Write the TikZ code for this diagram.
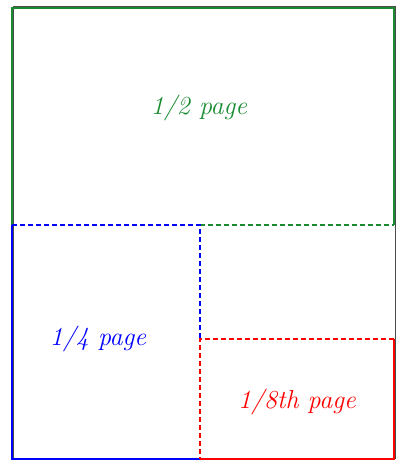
\documentclass[tikz,border=0pt]{standalone}
\usepackage{fontspec}
\usetikzlibrary{positioning}
\definecolor{halfgreen}{RGB}{25,140,50}
\tikzset{
    edge/.style={line width=2pt},
    fold/.style={line width=1.4pt, dash pattern=on 5pt off 3pt},
    label/.style={font=\fontsize{26}{30}\selectfont\itshape}
}

\begin{document}
\begin{tikzpicture}[x=1pt,y=-1pt]
    \useasboundingbox (0,0) rectangle (401,465);
    % Page corners
    \coordinate (tl) at (12,8);
    \coordinate (tr) at (394,8);
    \coordinate (bl) at (12,459);
    \coordinate (br) at (394,459);
    \coordinate (ml) at (12,225);
    \coordinate (mr) at (394,225);
    \coordinate (mc) at (200,225);
    \coordinate (bc) at (200,459);
    \coordinate (qc) at (200,339);
    \coordinate (qr) at (394,339);

    % Page outline
    \draw[line width=1pt, black!70] ([shift={(1,-1)}]tl) rectangle ([shift={(1,-1)}]br);

    % Half page
    \draw[edge, halfgreen] (ml) -- (tl) -- (tr) -- (mr);
    \draw[fold, halfgreen] (mc) -- (mr);

    % Quarter page
    \draw[edge, blue] (ml) -- (bl) -- (bc);
    \draw[fold, blue] (ml) -- (mc) -- (qc);

    % Eighth page
    \draw[edge, red] (bc) -- (br) -- (qr);
    \draw[fold, red] (qr) -- (qc) -- (bc);

    % Labels
    \node[label, text=halfgreen] (half) at (199,108) {1/2 page};
    \node[label, text=blue] (quarter) at (98,339) {1/4 page};
    \node[label, text=red] (eighth) at (297,402) {1/8th page};
\end{tikzpicture}
\end{document}
